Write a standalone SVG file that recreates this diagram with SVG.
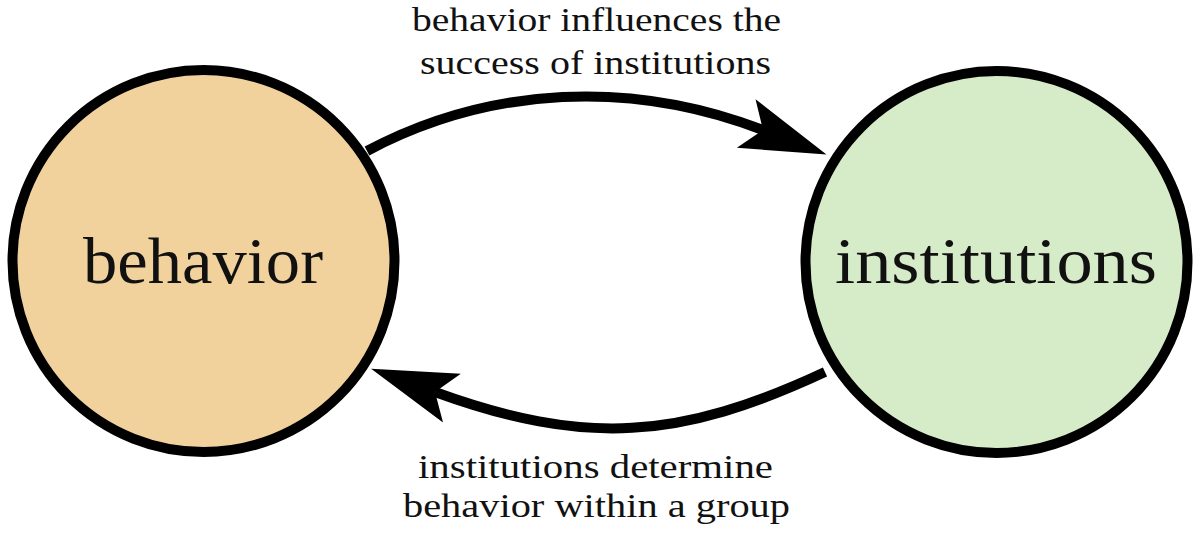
<svg xmlns="http://www.w3.org/2000/svg" width="1200" height="533" viewBox="0 0 1200 533">
  <style>
    .node { stroke: #000; stroke-width: 10; }
    .label { font-family: "Liberation Serif", "DejaVu Serif", serif; fill: #111; text-anchor: middle; }
    .big { font-size: 66px; }
    .small { font-size: 34px; }
    .edge { fill: none; stroke: #000; stroke-width: 10; }
  </style>
  <defs>
    <marker id="stealth" markerUnits="userSpaceOnUse" orient="auto" markerWidth="100" markerHeight="70" refX="30" refY="35" viewBox="0 0 100 70" overflow="visible">
      <path d="M98,35 L12,9 L30,35 L12,61 Z" fill="#000"/>
    </marker>
  </defs>
  <rect width="1200" height="533" fill="#fff"/>
  <g id="connectors">
    <path class="edge" d="M367,151 C490.6,85.3 632.3,79.8 763,130" marker-end="url(#stealth)"/>
    <path class="edge" d="M825,372 C680,439.6 585.4,446.7 435,392" marker-end="url(#stealth)"/>
    <text class="label small" x="596.5" y="31" textLength="369" lengthAdjust="spacingAndGlyphs">behavior influences the</text>
    <text class="label small" x="595.5" y="74" textLength="351" lengthAdjust="spacingAndGlyphs">success of institutions</text>
    <text class="label small" x="595.5" y="478" textLength="355" lengthAdjust="spacingAndGlyphs">institutions determine</text>
    <text class="label small" x="596.5" y="517" textLength="387" lengthAdjust="spacingAndGlyphs">behavior within a group</text>
  </g>
  <g id="node-behavior">
    <circle class="node" cx="203.5" cy="261" r="191" fill="#F1D29C"/>
    <text class="label big" x="203" y="283" textLength="240" lengthAdjust="spacingAndGlyphs">behavior</text>
  </g>
  <g id="node-institutions">
    <circle class="node" cx="996.5" cy="262" r="191" fill="#D6EBC7"/>
    <text class="label big" x="996" y="283" textLength="322" lengthAdjust="spacingAndGlyphs">institutions</text>
  </g>
</svg>
